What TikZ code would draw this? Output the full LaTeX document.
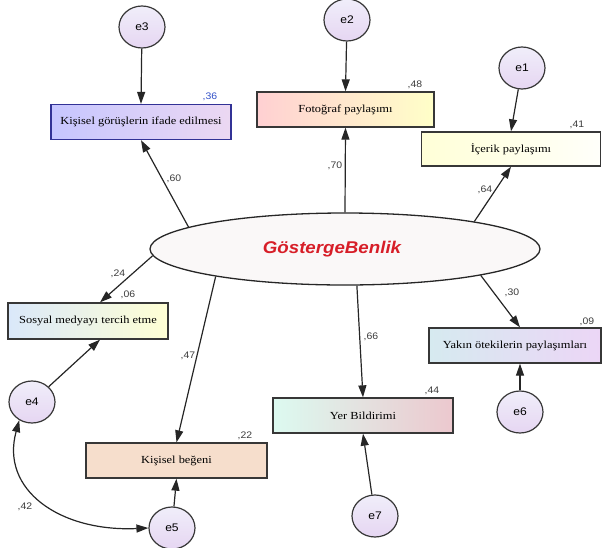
\documentclass[tikz,border=0pt]{standalone}
\usepackage{fontspec}
\setmainfont{Liberation Serif}
\newfontfamily\boxfont[FakeStretch=1.15]{Liberation Serif}
\newfontfamily\lblfont[FakeStretch=1.1]{Liberation Sans}
\usetikzlibrary{arrows.meta,shapes.geometric}

\definecolor{edgegrey}{RGB}{55,55,55}
\definecolor{edgeblue}{RGB}{50,50,150}
\definecolor{lblgrey}{RGB}{60,60,60}
\definecolor{lblblue}{RGB}{50,80,200}
\definecolor{latred}{RGB}{215,30,40}
\definecolor{latfill}{RGB}{250,248,248}
\definecolor{errA}{RGB}{240,238,250}
\definecolor{errB}{RGB}{230,214,242}
% box gradients (left / right)
\definecolor{bAl}{RGB}{198,198,255}\definecolor{bAr}{RGB}{236,216,242}
\definecolor{bBl}{RGB}{255,208,210}\definecolor{bBr}{RGB}{255,255,200}
\definecolor{bCl}{RGB}{255,255,215}\definecolor{bCr}{RGB}{255,255,250}
\definecolor{bDl}{RGB}{218,232,250}\definecolor{bDr}{RGB}{255,255,212}
\definecolor{bEl}{RGB}{214,234,240}\definecolor{bEr}{RGB}{236,214,246}
\definecolor{bFl}{RGB}{220,250,240}\definecolor{bFr}{RGB}{236,200,206}
\definecolor{bG}{RGB}{246,222,204}

\begin{document}
\begin{tikzpicture}[x=1pt,y=-1pt,
  obs/.style={draw=edgegrey, line width=1.3pt, inner sep=0pt,
    minimum height=35pt, font=\boxfont\fontsize{10.8}{12}\selectfont},
  err/.style={draw=edgegrey, ellipse, line width=1.2pt, minimum width=46pt,
    minimum height=42pt, inner sep=0pt, top color=errA, bottom color=errB,
    font=\lblfont\fontsize{11}{12}\selectfont},
  lbl/.style={inner sep=0pt, text=lblgrey, font=\lblfont\fontsize{9.5}{10}\selectfont},
  arr/.style={-{Triangle[length=12pt,width=8pt]}, line width=1.2pt, draw=black!85},
  darr/.style={{Triangle[length=12pt,width=8pt]}-{Triangle[length=12pt,width=8pt]},
    line width=1.2pt, draw=black!85}]
\useasboundingbox (0,0) rectangle (603,547);

% latent variable
\node[draw=black!85, ellipse, line width=1.3pt, fill=latfill,
  minimum width=390pt, minimum height=72pt] (lat) at (345,249) {};
\node[text=latred, font=\lblfont\bfseries\itshape\fontsize{17}{19}\selectfont]
  (latname) at (332,249) {GöstergeBenlik};

% observed variables
\node[obs, draw=edgeblue, minimum width=180pt, left color=bAl, right color=bAr]
  (b1) at (141,122) {Kişisel görüşlerin ifade edilmesi};
\node[obs, minimum width=177pt, left color=bBl, right color=bBr]
  (b2) at (345.5,109.5) {Fotoğraf paylaşımı};
\node[obs, minimum width=179pt, minimum height=34pt, left color=bCl, right color=bCr]
  (b3) at (511,149) {İçerik paylaşımı};
\node[obs, minimum width=160pt, minimum height=36pt, left color=bDl, right color=bDr]
  (b4) at (88,321) {Sosyal medyayı tercih etme};
\node[obs, minimum width=172pt, left color=bEl, right color=bEr]
  (b5) at (515,345.5) {Yakın ötekilerin paylaşımları};
\node[obs, minimum width=180pt, left color=bFl, right color=bFr]
  (b6) at (363,415.5) {Yer Bildirimi};
\node[obs, minimum width=181pt, fill=bG]
  (b7) at (176.5,460.5) {Kişisel beğeni};

% error terms
\node[err] (e3) at (142,27) {e3};
\node[err] (e2) at (347,20) {e2};
\node[err] (e1) at (522,68) {e1};
\node[err] (e4) at (32,402) {e4};
\node[err] (e5) at (172,528) {e5};
\node[err] (e6) at (520,412) {e6};
\node[err] (e7) at (375,516) {e7};

% loadings
\draw[arr] (lat.172.5) -- (b1.south);
\draw[arr] (lat.north) -- (b2.south);
\draw[arr] (lat.12) -- (b3.south);
\draw[arr] (lat.182.9) -- ([xshift=12pt]b4.north);
\draw[arr] (lat.192.8) -- (b7.north);
\draw[arr] (lat.288.4) -- (b6.north);
\draw[arr] (lat.349.9) -- ([xshift=5pt]b5.north);

% error paths
\draw[arr] (e3) -- (b1.north);
\draw[arr] (e2) -- (b2.north);
\draw[arr] (e1) -- (b3.north);
\draw[arr] (e6) -- ([xshift=5pt]b5.south);
\draw[arr] (e7) -- (b6.south);
\draw[arr] (e5) -- (b7.south);
\draw[arr] (e4) -- ([xshift=12pt]b4.south);
\draw[darr] (e4.235) .. controls (0,490) and (60,532) .. (e5.west);

% estimates
\node[lbl, text=lblblue] (r36) at (210,97) {,36};
\node[lbl] (r48) at (415,85) {,48};
\node[lbl] (r41) at (577,125) {,41};
\node[lbl] (w60) at (174,179) {,60};
\node[lbl] (w70) at (335,166) {,70};
\node[lbl] (w64) at (485,190) {,64};
\node[lbl] (w24) at (118,274) {,24};
\node[lbl] (r06) at (128,295) {,06};
\node[lbl] (w47) at (188,356) {,47};
\node[lbl] (w66) at (371,337) {,66};
\node[lbl] (r44) at (432,391) {,44};
\node[lbl] (w30) at (512,293) {,30};
\node[lbl] (r09) at (587,322) {,09};
\node[lbl] (r22) at (245,436) {,22};
\node[lbl] (c42) at (25,507) {,42};
\end{tikzpicture}
\end{document}
